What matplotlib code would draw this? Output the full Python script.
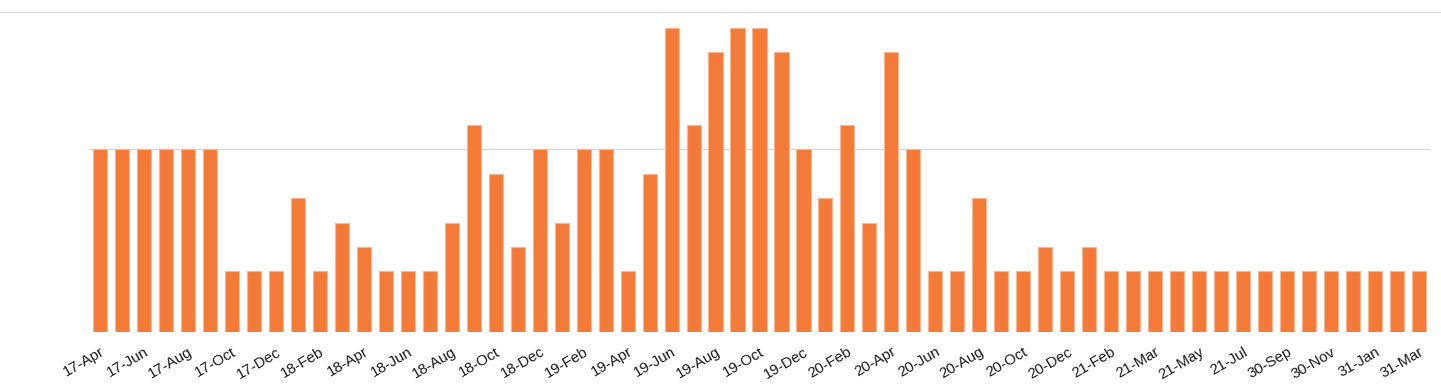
import numpy as np
import matplotlib.pyplot as plt
from matplotlib.lines import Line2D

# month labels (one label shown for every second bar)
labels = ['17-Apr', '17-Jun', '17-Aug', '17-Oct', '17-Dec', '18-Feb', '18-Apr', '18-Jun',
          '18-Aug', '18-Oct', '18-Dec', '19-Feb', '19-Apr', '19-Jun', '19-Aug', '19-Oct',
          '19-Dec', '20-Feb', '20-Apr', '20-Jun', '20-Aug', '20-Oct', '20-Dec', '21-Feb',
          '21-Mar', '21-May', '21-Jul', '30-Sep', '30-Nov', '31-Jan', '31-Mar']

# bar values
values = [15, 15, 15, 15, 15, 15, 5, 5, 5, 11,
          5, 9, 7, 5, 5, 5, 9, 17, 13, 7,
          15, 9, 15, 15, 5, 13, 25, 17, 23, 25,
          25, 23, 15, 11, 17, 9, 23, 15, 5, 5,
          11, 5, 5, 7, 5, 7, 5, 5, 5, 5,
          5, 5, 5, 5, 5, 5, 5, 5, 5, 5, 5]

gridline_values = [15]

W, H = 1441, 392
fig = plt.figure(figsize=(W / 100, H / 100), dpi=100)
plt.rcParams['font.family'] = ['Liberation Sans', 'DejaVu Sans']

left, right = 89 / W, 1430 / W
bottom, top = 1 - 332.3 / H, 1 - 12.3 / H
ax = fig.add_axes([left, bottom, right - left, top - bottom])

x = np.arange(len(values))
ax.bar(x, values, width=0.64, color='#f47a38', edgecolor='#f9b592', linewidth=0.8, zorder=2)

ax.set_xlim(-0.5, len(values) - 0.5)
ax.set_ylim(0, 26.25)

# horizontal gridline
ax.set_yticks(gridline_values)
ax.yaxis.grid(True, color='#d9d9d9', linewidth=1)
ax.tick_params(axis='y', length=0, labelleft=False)

ax.set_xticks(x[::2])
ax.set_xticklabels(labels, rotation=30, ha='right', rotation_mode='anchor',
                   fontsize=10.8, color='#1a1a1a')
ax.tick_params(axis='x', length=0, pad=9)

for s in ax.spines.values():
    s.set_visible(False)

# top rule across the whole figure
fig.add_artist(Line2D([0, 1], [top, top], color='#d9d9d9', linewidth=1, transform=fig.transFigure))

fig.savefig('out.png', dpi=100)
